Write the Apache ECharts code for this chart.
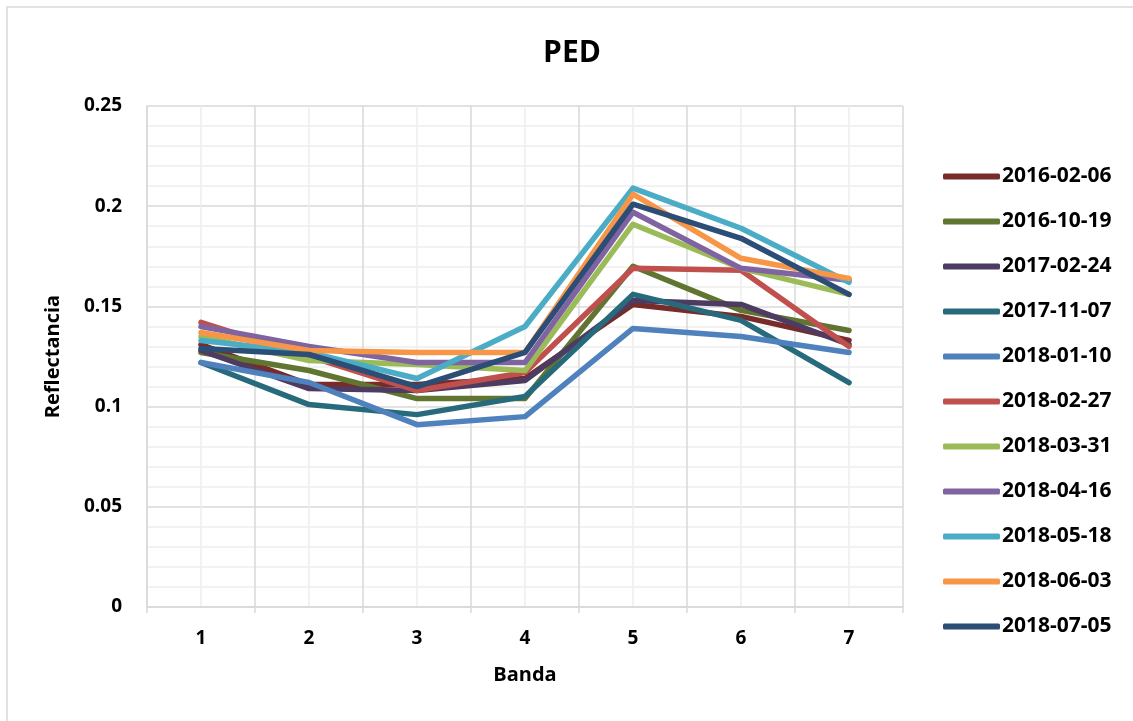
<!DOCTYPE html>
<html>
<head>
<meta charset="utf-8">
<script src="https://cdn.jsdelivr.net/npm/echarts@6/dist/echarts.min.js"></script>
<style>
  html, body { margin: 0; padding: 0; background: #fff; }
  #container { width: 1133px; height: 721px; }
</style>
</head>
<body>
<div id="container"></div>
<script>
let bandas = ['1', '2', '3', '4', '5', '6', '7'];

let fechas = ['2016-02-06', '2016-10-19', '2017-02-24', '2017-11-07', '2018-01-10',
    '2018-02-27', '2018-03-31', '2018-04-16', '2018-05-18', '2018-06-03', '2018-07-05'];

let v20160206 = [0.131, 0.111, 0.111, 0.114, 0.151, 0.145, 0.133];
let v20161019 = [0.127, 0.118, 0.104, 0.104, 0.170, 0.148, 0.138];
let v20170224 = [0.128, 0.109, 0.108, 0.113, 0.153, 0.151, 0.131];
let v20171107 = [0.122, 0.101, 0.096, 0.105, 0.156, 0.143, 0.112];
let v20180110 = [0.122, 0.112, 0.091, 0.095, 0.139, 0.135, 0.127];
let v20180227 = [0.142, 0.125, 0.108, 0.117, 0.169, 0.168, 0.130];
let v20180331 = [0.135, 0.123, 0.121, 0.118, 0.191, 0.169, 0.156];
let v20180416 = [0.140, 0.130, 0.122, 0.122, 0.197, 0.169, 0.163];
let v20180518 = [0.133, 0.127, 0.114, 0.140, 0.209, 0.189, 0.162];
let v20180603 = [0.137, 0.128, 0.127, 0.127, 0.206, 0.174, 0.164];
let v20180705 = [0.129, 0.126, 0.110, 0.127, 0.201, 0.184, 0.156];

let valores = [v20160206, v20161019, v20170224, v20171107, v20180110, v20180227,
    v20180331, v20180416, v20180518, v20180603, v20180705];

let colores = ['#772C2A', '#5F7530', '#4D3B62', '#276A7C', '#4F81BD', '#C0504D',
    '#9BBB59', '#8064A2', '#4BACC6', '#F79646', '#2C4D75'];

let fuente = 'Open Sans';

let series = fechas.map((f, i) => ({
    name: f,
    type: 'line',
    data: valores[i],
    symbol: 'none',
    color: colores[i],
    lineStyle: { width: 5.5, cap: 'round', join: 'round' },
    xAxisIndex: 0,
    yAxisIndex: 0
}));

let dom = document.getElementById('container');
let chart = echarts.init(dom, null, { renderer: 'canvas' });

chart.setOption({
    animation: false,
    backgroundColor: '#fff',
    graphic: [{
        type: 'rect',
        shape: { x: 7, y: 7, width: 1140, height: 730 },
        style: { fill: 'none', stroke: '#d9d9d9', lineWidth: 1.5 },
        silent: true
    }],
    title: {
        text: 'PED',
        left: 567,
        textAlign: 'center',
        top: 33,
        textStyle: { fontFamily: fuente, fontWeight: 'bold', fontSize: 30, color: '#000' }
    },
    legend: {
        orient: 'vertical',
        left: 943,
        top: 166,
        padding: 0,
        icon: 'roundRect',
        itemWidth: 57,
        itemHeight: 6,
        itemGap: 24,
        textStyle: { fontFamily: fuente, fontWeight: 'bold', fontSize: 21, color: '#000', lineHeight: 21, padding: [0, 0, 0, -3] },
        data: fechas
    },
    grid: { left: 147, right: 230, top: 106, bottom: 114 },
    xAxis: [{
        type: 'category',
        data: bandas,
        boundaryGap: true,
        name: 'Banda',
        nameLocation: 'middle',
        nameGap: 58,
        nameTextStyle: { fontFamily: fuente, fontWeight: 'bold', fontSize: 20, color: '#000' },
        axisLine: { lineStyle: { color: '#d9d9d9', width: 1.5 } },
        axisTick: { show: true, length: 6, lineStyle: { color: '#d9d9d9', width: 1.5 } },
        axisLabel: { fontFamily: fuente, fontWeight: 'bold', fontSize: 19, color: '#000', margin: 22 },
        splitLine: { show: true, lineStyle: { color: '#d9d9d9', width: 1.5 } }
    }, {
        type: 'value',
        min: 0,
        max: 14,
        interval: 2,
        position: 'top',
        axisLine: { show: false },
        axisTick: { show: false },
        axisLabel: { show: false },
        splitLine: { show: false },
        minorTick: { show: false, splitNumber: 2 },
        minorSplitLine: { show: true, lineStyle: { color: '#eeeeee', width: 1.5 } }
    }],
    yAxis: {
        type: 'value',
        min: 0,
        max: 0.25,
        interval: 0.05,
        name: 'Reflectancia',
        nameLocation: 'middle',
        nameGap: 84,
        nameTextStyle: { fontFamily: fuente, fontWeight: 'bold', fontSize: 20, color: '#000' },
        axisLine: { show: true, lineStyle: { color: '#d9d9d9', width: 1.5 } },
        axisTick: { show: false },
        axisLabel: { fontFamily: fuente, fontWeight: 'bold', fontSize: 19, color: '#000', margin: 25 },
        splitLine: { show: true, lineStyle: { color: '#d9d9d9', width: 1.5 } },
        minorTick: { show: false, splitNumber: 5 },
        minorSplitLine: { show: true, lineStyle: { color: '#eeeeee', width: 1.5 } }
    },
    series: series
});
</script>
</body>
</html>
